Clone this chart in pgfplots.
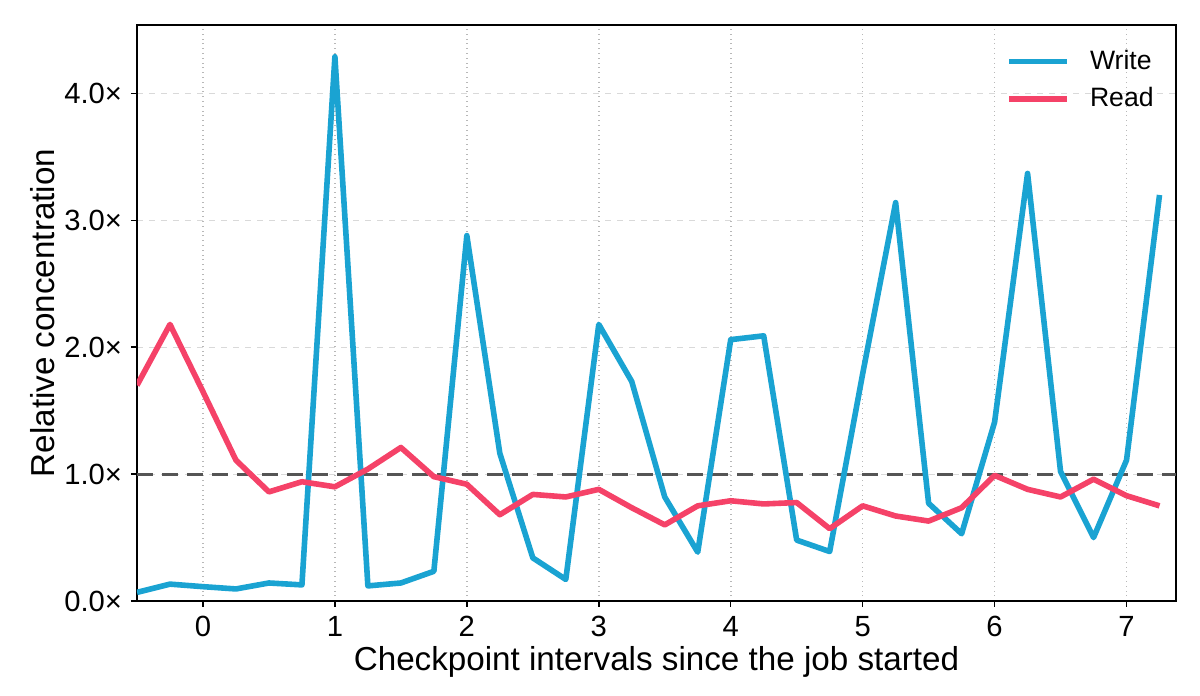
\documentclass[border=0pt]{standalone}
\usepackage{fontspec}
\setmainfont{Liberation Sans}
\usepackage{pgfplots}
\pgfplotsset{compat=1.18}
\definecolor{writec}{RGB}{26,163,210}
\definecolor{readc}{RGB}{245,66,104}
\definecolor{refc}{RGB}{85,85,85}
\begin{document}
\begin{tikzpicture}
\path[use as bounding box] (-68.5pt,-47.5pt) rectangle (531.5pt,300.5pt);
\begin{axis}[
  scale only axis,
  width=519.5pt, height=288pt,
  xmin=-0.5, xmax=7.375,
  ymin=0, ymax=4.54,
  axis line style={line width=0.75pt, black},
  tick align=outside,
  major tick length=3pt,
  tick style={line width=0.75pt, black},
  xtick={0,1,2,3,4,5,6,7},
  xticklabels={0,1,2,3,4,5,6,7},
  ytick={0,1,2,3,4},
  yticklabels={0.0×,1.0×,2.0×,3.0×,4.0×},
  xtick pos=bottom, ytick pos=left,
  every tick label/.append style={font=\fontsize{14.6}{17}\selectfont},
  xticklabel style={yshift=-1pt},
  yticklabel style={xshift=-1pt},
  xmajorgrids, ymajorgrids,
  x grid style={dotted, line width=0.8pt, black!28},
  y grid style={dashed, line width=0.5pt, black!15},
  xlabel={Checkpoint intervals since the job started},
  ylabel={Relative concentration},
  label style={font=\fontsize{16.6}{20}\selectfont},
  xlabel style={yshift=2pt},
  ylabel style={yshift=-2pt},
  legend style={draw=none, fill=none, at={(1,1)}, anchor=north east,
    xshift=-6pt, yshift=-8.5pt, font=\fontsize{13.3}{16}\selectfont,
    row sep=3.5pt, nodes={inner sep=2pt}},
  legend cell align=left,
  legend image code/.code={\draw[#1] (0pt,0pt) -- (29pt,0pt); \path (37pt,0pt);},
]
\addplot[refc, line width=1.5pt, dash pattern=on 8pt off 4.5pt, forget plot] coordinates {(-0.5,1) (7.375,1)};
\addplot[writec, line width=2.8pt, line join=round] coordinates {
(-0.5,0.068) (-0.25,0.133) (0,0.113) (0.25,0.095) (0.5,0.142) (0.75,0.127)
(1,4.29) (1.25,0.119) (1.5,0.142) (1.75,0.234) (2,2.88) (2.25,1.164)
(2.5,0.34) (2.75,0.17) (3,2.18) (3.25,1.73) (3.5,0.82) (3.75,0.385)
(4,2.06) (4.25,2.09) (4.5,0.48) (4.75,0.39) (5,1.79) (5.25,3.14)
(5.5,0.77) (5.75,0.53) (6,1.41) (6.25,3.37) (6.5,1.02) (6.75,0.50)
(7,1.11) (7.25,3.20)};
\addlegendentry{Write}
\addplot[readc, line width=2.8pt, line join=round] coordinates {
(-0.5,1.70) (-0.25,2.18) (0,1.65) (0.25,1.11) (0.5,0.86) (0.75,0.94)
(1,0.90) (1.25,1.04) (1.5,1.21) (1.75,0.98) (2,0.92) (2.25,0.68)
(2.5,0.84) (2.75,0.82) (3,0.88) (3.25,0.735) (3.5,0.60) (3.75,0.75)
(4,0.79) (4.25,0.765) (4.5,0.776) (4.75,0.57) (5,0.75) (5.25,0.67)
(5.5,0.63) (5.75,0.735) (6,0.99) (6.25,0.88) (6.5,0.82) (6.75,0.96)
(7,0.83) (7.25,0.75)};
\addlegendentry{Read}
\end{axis}
\end{tikzpicture}
\end{document}
